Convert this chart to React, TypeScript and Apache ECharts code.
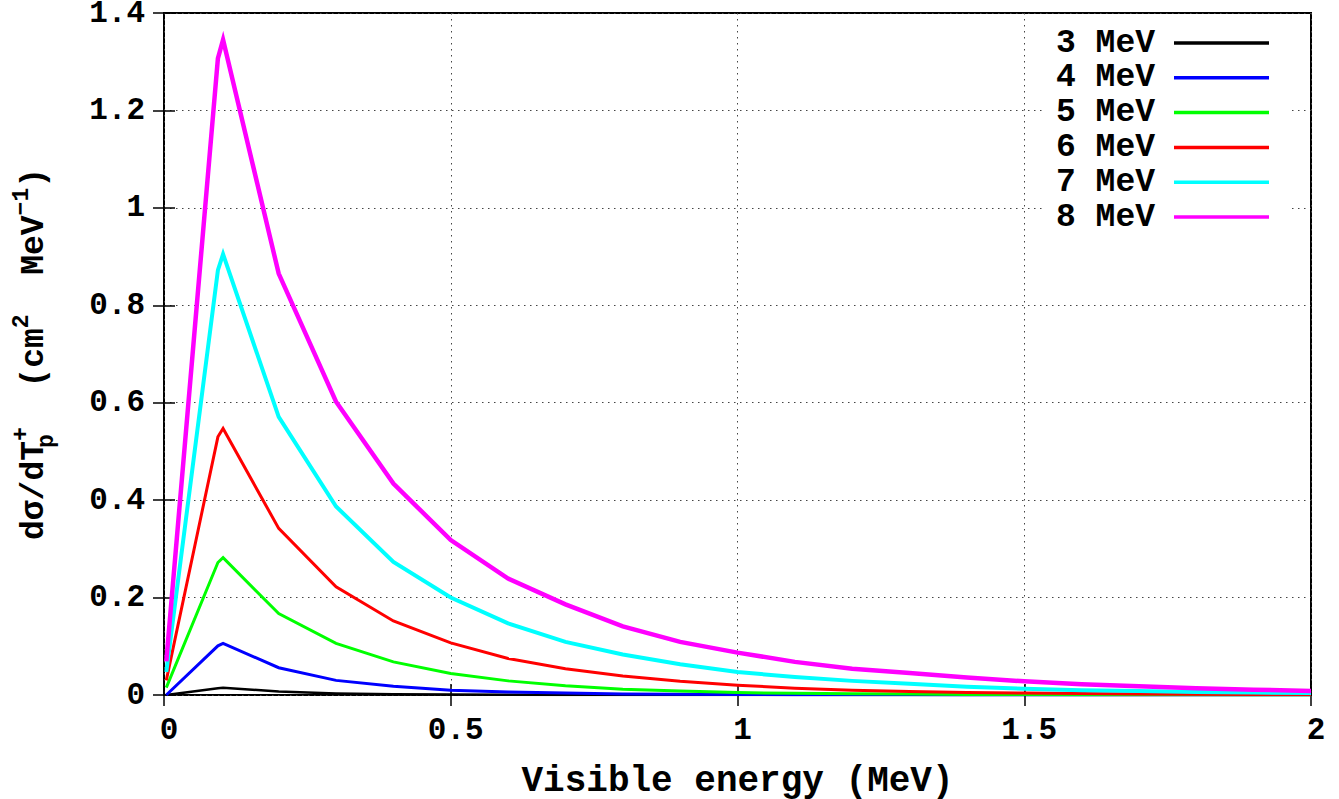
import React, { useEffect, useRef } from "react";
import * as echarts from "echarts";

const energies = [0.004, 0.094, 0.103, 0.2, 0.3, 0.4, 0.5, 0.6, 0.7, 0.8, 0.9, 1.0, 1.1, 1.2, 1.3, 1.4, 1.5, 1.6, 1.7, 1.8, 1.9, 2.0];

const s3MeV = [0.0, 0.014, 0.015, 0.007, 0.003, 0.0015, 0.0008, 0.0004, 0.0002, 0.0001, 0, 0, 0, 0, 0, 0, 0, 0, 0, 0, 0, 0];
const s4MeV = [0.0, 0.101, 0.106, 0.056, 0.03, 0.018, 0.01, 0.006, 0.004, 0.002, 0.0015, 0.001, 0.0007, 0.0005, 0.0003, 0.0002, 0.0001, 0.0001, 0, 0, 0, 0];
const s5MeV = [0.015, 0.272, 0.282, 0.167, 0.106, 0.068, 0.044, 0.029, 0.019, 0.012, 0.008, 0.005, 0.0035, 0.0025, 0.0018, 0.0012, 0.0008, 0.0006, 0.0004, 0.0003, 0.0002, 0.0001];
const s6MeV = [0.03, 0.53, 0.547, 0.342, 0.222, 0.152, 0.107, 0.075, 0.054, 0.039, 0.028, 0.02, 0.014, 0.01, 0.007, 0.005, 0.004, 0.003, 0.002, 0.0015, 0.001, 0.0008];
const s7MeV = [0.047, 0.872, 0.905, 0.571, 0.387, 0.273, 0.2, 0.147, 0.109, 0.083, 0.063, 0.047, 0.037, 0.029, 0.023, 0.017, 0.013, 0.01, 0.008, 0.006, 0.005, 0.004];
const s8MeV = [0.069, 1.307, 1.345, 0.865, 0.602, 0.434, 0.318, 0.239, 0.186, 0.141, 0.109, 0.087, 0.068, 0.054, 0.045, 0.036, 0.028, 0.022, 0.018, 0.014, 0.011, 0.008];

const seriesNames = ["3 MeV", "4 MeV", "5 MeV", "6 MeV", "7 MeV", "8 MeV"];
const seriesValues = [s3MeV, s4MeV, s5MeV, s6MeV, s7MeV, s8MeV];
const seriesColors = ["#000000", "#0000ff", "#00ff00", "#ff0000", "#00ffff", "#ff00ff"];
const seriesWidths = [2.5, 3, 3, 3, 4, 4.5];

const xTickLabels = ["0", "0.5", "1", "1.5", "2"];
const yTickLabels = ["0", "0.2", "0.4", "0.6", "0.8", "1", "1.2", "1.4"];

const FONT = "'Liberation Mono', 'DejaVu Sans Mono', monospace";

export default function App() {
  const ref = useRef<HTMLDivElement>(null);

  useEffect(() => {
    if (!ref.current) return;
    const chart = echarts.init(ref.current, undefined, { renderer: "svg" });

    const gridLine = { show: true, lineStyle: { color: "#444", width: 1, type: [1.5, 4.5] as any } };

    const option: any = {
      animation: false,
      backgroundColor: "#fff",
      grid: {
        left: 164,
        right: 28,
        top: 13,
        bottom: 104,
        containLabel: false,
        outerBoundsMode: "none",
        show: true,
        borderColor: "#000",
        borderWidth: 2,
        backgroundColor: "transparent",
      },
      legend: {
        orient: "vertical",
        align: "right",
        right: 49,
        top: 18,
        icon: "rect",
        itemWidth: 95,
        itemHeight: 3.5,
        itemGap: 0.8,
        backgroundColor: "#fff",
        padding: [8, 21, 8, 12],
        data: seriesNames,
        textStyle: {
          fontFamily: FONT,
          fontWeight: "bold",
          fontSize: 33,
          lineHeight: 34,
          color: "#000",
          padding: [0, 14, 0, 0],
        },
      },
      xAxis: [
        {
          type: "value",
          min: 0,
          max: 2,
          interval: 0.5,
          name: "Visible energy (MeV)",
          nameLocation: "middle",
          nameGap: 70,
          nameTextStyle: { fontFamily: FONT, fontWeight: "bold", fontSize: 36, lineHeight: 32, color: "#000" },
          axisLine: { show: false },
          axisTick: { show: true, inside: true, length: 11, lineStyle: { color: "#000", width: 1.5 } },
          axisLabel: {
            margin: 20,
            fontFamily: FONT,
            fontWeight: "bold",
            fontSize: 31,
            color: "#000",
            padding: [0, 0, 0, 10],
            formatter: (v: number) => xTickLabels[Math.round(v / 0.5)] ?? "",
          },
          splitLine: gridLine,
        },
        {
          type: "value",
          position: "top",
          min: 0,
          max: 2,
          interval: 0.5,
          axisLine: { show: false },
          axisTick: { show: true, inside: true, length: 11, lineStyle: { color: "#000", width: 1.5 } },
          axisLabel: { show: false },
          splitLine: { show: false },
        },
      ],
      yAxis: [
        {
          type: "value",
          min: 0,
          max: 1.4,
          interval: 0.2,
          name: "{m|dσ/dT}{sub|p}{sup|+}{m|  (cm}{sup|2}{m|  MeV}{sup|−1}{m|)}",
          nameLocation: "middle",
          nameGap: 106,
          nameTextStyle: {
            fontFamily: FONT,
            fontWeight: "bold",
            color: "#000",
            rich: {
              m: { fontFamily: FONT, fontWeight: "bold", fontSize: 33, lineHeight: 48, color: "#000" },
              sup: { fontFamily: FONT, fontWeight: "bold", fontSize: 23, lineHeight: 22, verticalAlign: "top", color: "#000" },
              sub: { fontFamily: FONT, fontWeight: "bold", fontSize: 23, lineHeight: 22, verticalAlign: "bottom", width: 0, color: "#000" },
            },
          },
          axisLine: { show: false },
          axisTick: { show: true, inside: true, length: 11, lineStyle: { color: "#000", width: 1.5 } },
          axisLabel: {
            margin: 19,
            fontFamily: FONT,
            fontWeight: "bold",
            fontSize: 31,
            lineHeight: 22,
            color: "#000",
            formatter: (v: number) => yTickLabels[Math.round(v / 0.2)] ?? "",
          },
          splitLine: gridLine,
        },
        {
          type: "value",
          position: "right",
          min: 0,
          max: 1.4,
          interval: 0.2,
          axisLine: { show: false },
          axisTick: { show: true, inside: true, length: 11, lineStyle: { color: "#000", width: 1.5 } },
          axisLabel: { show: false },
          splitLine: { show: false },
        },
      ],
      series: seriesNames.map((name, i) => ({
        name,
        type: "line",
        xAxisIndex: 0,
        yAxisIndex: 0,
        showSymbol: false,
        symbol: "none",
        smooth: false,
        color: seriesColors[i],
        lineStyle: { color: seriesColors[i], width: seriesWidths[i], join: "miter" },
        data: energies.map((x, j) => [x, seriesValues[i][j]]),
        z: 2 + i,
      })),
    };

    chart.setOption(option);
    return () => chart.dispose();
  }, []);

  return (
    <div
      ref={ref}
      style={{ position: "fixed", left: 0, top: 0, width: 1339, height: 799, background: "#fff" }}
    />
  );
}
